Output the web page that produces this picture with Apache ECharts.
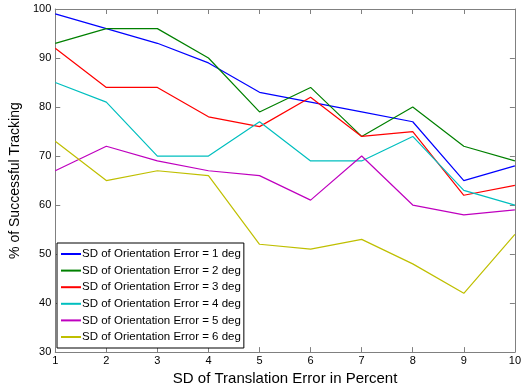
<!DOCTYPE html>
<html>
<head>
<meta charset="utf-8">
<script src="https://cdn.jsdelivr.net/npm/echarts@6/dist/echarts.min.js"></script>
<style>
  html, body { margin: 0; padding: 0; background: #fff; }
  #chart { width: 524px; height: 391px; }
</style>
</head>
<body>
<div id="chart"></div>
<script>
// translation error in percent
const translation = [1, 2, 3, 4, 5, 6, 7, 8, 9, 10];
const seriesNames = [
  'SD of Orientation Error = 1 deg',
  'SD of Orientation Error = 2 deg',
  'SD of Orientation Error = 3 deg',
  'SD of Orientation Error = 4 deg',
  'SD of Orientation Error = 5 deg',
  'SD of Orientation Error = 6 deg'
];
const deg1 = [99, 96, 93, 89, 83, 81, 79, 77, 65, 68];
const deg2 = [93, 96, 96, 90, 79, 84, 74, 80, 72, 69];
const deg3 = [92, 84, 84, 78, 76, 82, 74, 75, 62, 64];
const deg4 = [85, 81, 70, 70, 77, 69, 69, 74, 63, 60];
const deg5 = [67, 72, 69, 67, 66, 61, 70, 60, 58, 59];
const deg6 = [73, 65, 67, 66, 52, 51, 53, 48, 42, 54];
const colors = ['#0000ff', '#008000', '#ff0000', '#00bfbf', '#bf00bf', '#bfbf00'];

const allData = [deg1, deg2, deg3, deg4, deg5, deg6];
const font = 'Liberation Sans, Arial, sans-serif';
const axisCol = '#808080';

const chart = echarts.init(document.getElementById('chart'));

// axis template, ticks pointing inside like matlab
function boxAxis(extra) {
  return Object.assign({
    type: 'value',
    axisLine: { show: true, lineStyle: { color: axisCol, width: 1 } },
    axisTick: { show: true, inside: true, length: 5, lineStyle: { color: axisCol } },
    splitLine: { show: false },
    axisLabel: { color: '#000', fontFamily: font, fontSize: 11 }
  }, extra);
}

chart.setOption({
  backgroundColor: '#fff',
  animation: false,
  color: colors,
  grid: { left: 49, right: 5, top: 9, bottom: 35 },
  legend: {
    orient: 'vertical',
    left: 57,
    top: 243,
    padding: [5, 3, 5, 4],
    icon: 'rect',
    itemWidth: 20,
    itemHeight: 2,
    itemGap: 4.6,
    borderColor: '#000',
    borderWidth: 1,
    backgroundColor: '#fff',
    textStyle: { color: '#000', fontFamily: font, fontSize: 11.5, lineHeight: 12, padding: [0, 0, 0, -4] },
    data: seriesNames
  },
  xAxis: [
    boxAxis({
      min: 1, max: 10, interval: 1,
      name: 'SD of Translation Error in Percent',
      nameLocation: 'middle',
      nameGap: 13,
      nameTextStyle: { color: '#000', fontFamily: font, fontSize: 15 },
      axisLabel: { color: '#000', fontFamily: font, fontSize: 11, margin: 3, showMaxLabel: true }
    }),
    boxAxis({ position: 'top', min: 1, max: 10, interval: 1, axisLabel: { show: false } })
  ],
  yAxis: [
    boxAxis({
      min: 30, max: 100, interval: 10,
      name: '% of Successful Tracking',
      nameLocation: 'middle',
      nameGap: 20,
      nameTextStyle: { color: '#000', fontFamily: font, fontSize: 14 },
      axisLabel: { color: '#000', fontFamily: font, fontSize: 11, margin: 4 }
    }),
    boxAxis({ position: 'right', min: 30, max: 100, interval: 10, axisLabel: { show: false } })
  ],
  series: seriesNames.map((name, i) => ({
    name: name,
    type: 'line',
    symbol: 'none',
    lineStyle: { width: 1.2, color: colors[i] },
    itemStyle: { color: colors[i] },
    data: translation.map((x, j) => [x, allData[i][j]])
  }))
});
</script>
</body>
</html>
